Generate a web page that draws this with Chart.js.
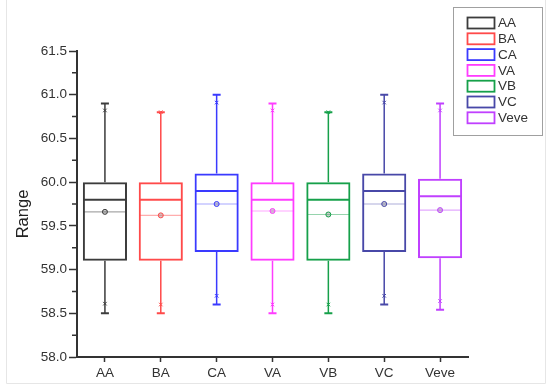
<!DOCTYPE html>
<html>
<head>
<meta charset="utf-8">
<script src="https://cdn.jsdelivr.net/npm/chart.js@4/dist/chart.umd.min.js"></script>
<style>
html,body{margin:0;padding:0;background:#fff}
#wrap{width:550px;height:389px;position:relative}
</style>
</head>
<body>
<div id="wrap"><canvas id="boxChart" width="550" height="389"></canvas></div>
<script>
// ==============================
// Range box plot
// ==============================

const categories = ["AA","BA","CA","VA","VB","VC","Veve"]

const whiskerLow  = [58.5, 58.5, 58.6, 58.5, 58.5, 58.6, 58.54]
const q1          = [59.1, 59.1, 59.2, 59.1, 59.1, 59.2, 59.13]
const median      = [59.8, 59.8, 59.9, 59.8, 59.8, 59.9, 59.84]
const q3          = [60.0, 60.0, 60.1, 60.0, 60.0, 60.1, 60.04]
const whiskerHigh = [60.9, 60.8, 61.0, 60.9, 60.8, 61.0, 60.9]
const mean        = [59.66, 59.62, 59.75, 59.67, 59.63, 59.75, 59.68]
const minMark     = [58.61, 58.6, 58.7, 58.6, 58.6, 58.7, 58.64]
const maxMark     = [60.82, 60.8, 60.91, 60.82, 60.8, 60.91, 60.82]

const yTicks = [58.0, 58.5, 59.0, 59.5, 60.0, 60.5, 61.0, 61.5]

const colors = ["#3c3c3c","#ff4a4a","#3a3aff","#ff3cff","#16a04a","#4848a8","#c040ff"]

const axisColor = "#333"
const textColor = "#333"
const fontFamily = "'Liberation Sans', Arial, sans-serif"


// Whiskers, median and mean lines

const boxParts = {
id:"boxParts",
afterDatasetsDraw(chart){
const ctx = chart.ctx
const y = chart.scales.y
const bars = chart.getDatasetMeta(0).data
ctx.save()
bars.forEach((bar,i)=>{
const cx = bar.x
const half = bar.width/2
ctx.strokeStyle = colors[i]
ctx.lineWidth = 1.5
// whiskers
ctx.beginPath()
ctx.moveTo(cx, y.getPixelForValue(q3[i]))
ctx.lineTo(cx, y.getPixelForValue(whiskerHigh[i]))
ctx.moveTo(cx, y.getPixelForValue(q1[i]))
ctx.lineTo(cx, y.getPixelForValue(whiskerLow[i]))
ctx.stroke()
// caps
ctx.lineWidth = 2
ctx.beginPath()
ctx.moveTo(cx-4, y.getPixelForValue(whiskerHigh[i]))
ctx.lineTo(cx+4, y.getPixelForValue(whiskerHigh[i]))
ctx.moveTo(cx-4, y.getPixelForValue(whiskerLow[i]))
ctx.lineTo(cx+4, y.getPixelForValue(whiskerLow[i]))
ctx.stroke()
// median
ctx.lineWidth = 2
ctx.beginPath()
ctx.moveTo(cx-half+1, y.getPixelForValue(median[i]))
ctx.lineTo(cx+half-1, y.getPixelForValue(median[i]))
ctx.stroke()
// mean line
ctx.globalAlpha = 0.45
ctx.lineWidth = 1.2
ctx.beginPath()
ctx.moveTo(cx-half+1, y.getPixelForValue(mean[i]))
ctx.lineTo(cx+half-1, y.getPixelForValue(mean[i]))
ctx.stroke()
ctx.globalAlpha = 1
})
ctx.restore()
}
}


// Minor ticks, axis title, legend, frame

const extras = {
id:"extras",
afterDraw(chart){
const ctx = chart.ctx
const y = chart.scales.y
const left = chart.chartArea.left
ctx.save()
ctx.strokeStyle = axisColor
ctx.lineWidth = 1.5
ctx.beginPath()
for(let i=0;i<yTicks.length-1;i++){
const py = y.getPixelForValue((yTicks[i]+yTicks[i+1])/2)
ctx.moveTo(left-5, py)
ctx.lineTo(left, py)
}
ctx.stroke()

// y title
ctx.save()
ctx.translate(23, 214)
ctx.rotate(-Math.PI/2)
ctx.font = "16.5px " + fontFamily
ctx.fillStyle = "#222"
ctx.textAlign = "center"
ctx.textBaseline = "middle"
ctx.fillText("Range", 0, 0)
ctx.restore()

// legend
ctx.strokeStyle = "#a0a0a0"
ctx.lineWidth = 1
ctx.strokeRect(453.5, 7.5, 89, 128)
ctx.font = "13.5px " + fontFamily
ctx.textBaseline = "middle"
ctx.fillStyle = textColor
categories.forEach((c,i)=>{
const cy = 23 + i*15.8
ctx.strokeStyle = colors[i]
ctx.lineWidth = 1.8
ctx.strokeRect(467.5, cy-5.5, 27, 11)
ctx.fillText(c, 498, cy+0.5)
})

// faint frame
ctx.strokeStyle = "#e6e6e6"
ctx.lineWidth = 1
ctx.beginPath()
ctx.moveTo(6.5, 0)
ctx.lineTo(6.5, 383.5)
ctx.lineTo(545.5, 383.5)
ctx.lineTo(545.5, 0)
ctx.stroke()
ctx.restore()
}
}


// Chart

const boxCtx = document.getElementById("boxChart")

new Chart(boxCtx,{

type:"bar",

data:{

labels:categories,

datasets:[

{
type:"bar",
data:categories.map((c,i)=>[q1[i],q3[i]]),
backgroundColor:"rgba(255,255,255,0)",
borderColor:colors,
borderWidth:2,
borderSkipped:false,
barPercentage:0.79,
categoryPercentage:1,
order:2
},

{
type:"line",
data:mean,
showLine:false,
pointStyle:"circle",
pointRadius:2.5,
pointBorderWidth:1,
pointBorderColor:colors,
pointBackgroundColor:"rgba(150,150,150,0.5)",
order:1
},

{
type:"line",
data:maxMark,
showLine:false,
pointStyle:"crossRot",
pointRadius:2.5,
pointBorderWidth:1,
pointBorderColor:colors,
order:1
},

{
type:"line",
data:minMark,
showLine:false,
pointStyle:"crossRot",
pointRadius:2.5,
pointBorderWidth:1,
pointBorderColor:colors,
order:1
}

]

},

options:{
responsive:false,
animation:false,
devicePixelRatio:1,
layout:{
padding:{left:14, top:51, right:82, bottom:8}
},
plugins:{
legend:{display:false},
tooltip:{enabled:false}
},
scales:{
x:{
offset:true,
grid:{
offset:false,
drawOnChartArea:false,
drawTicks:true,
tickLength:5,
tickColor:axisColor,
tickWidth:1.5
},
border:{display:true, color:axisColor, width:2},
ticks:{
color:textColor,
padding:3,
font:{family:fontFamily, size:13.5}
},
afterFit(scale){ scale.height = 24 }
},
y:{
min:58,
max:61.5,
afterBuildTicks(scale){
scale.ticks = yTicks.map(v=>({value:v}))
},
grid:{
drawOnChartArea:false,
drawTicks:true,
tickLength:8,
tickColor:axisColor,
tickWidth:1.5
},
border:{display:true, color:axisColor, width:2},
ticks:{
color:textColor,
padding:2,
font:{family:fontFamily, size:13.5},
callback:v=>Number(v).toFixed(1)
},
afterFit(scale){ scale.width = 63 }
}
}
},

plugins:[boxParts, extras]

})
</script>
</body>
</html>
